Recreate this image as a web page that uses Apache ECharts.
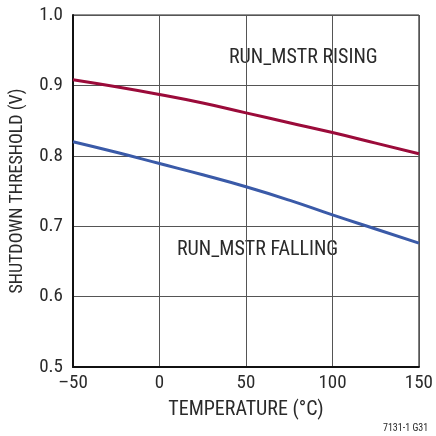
<!DOCTYPE html>
<html>
<head>
<meta charset="utf-8">
<script src="https://cdn.jsdelivr.net/npm/echarts@6/dist/echarts.min.js"></script>
<style>
  html, body { margin: 0; padding: 0; background: #fff; }
  #chart { width: 436px; height: 436px; }
</style>
</head>
<body>
<div id="chart"></div>
<script>
// 温度 (°C)
const temps = [-50, -25, 0, 25, 50, 75, 100, 125, 150]
// RUN_MSTR 上升阈值 (V)
const rising = [0.908, 0.898, 0.887, 0.875, 0.861, 0.847, 0.833, 0.818, 0.803]
// RUN_MSTR 下降阈值 (V)
const falling = [0.820, 0.805, 0.789, 0.773, 0.756, 0.737, 0.716, 0.696, 0.676]

const font = "'Roboto Condensed', 'Liberation Sans', Arial, sans-serif"
const textColor = '#2a2a2a'

const chart = echarts.init(document.getElementById('chart'))

const toPairs = arr => temps.map((t, i) => [t, arr[i]])

chart.setOption({
  animation: false,
  grid: {
    left: 71,
    right: 14,
    top: 15,
    bottom: 69,
    show: true,
    borderColor: '#222',
    borderWidth: 1
  },
  xAxis: {
    type: 'value',
    min: -50,
    max: 150,
    interval: 50,
    name: 'TEMPERATURE (°C)',
    nameLocation: 'middle',
    nameGap: 33,
    nameTextStyle: { fontFamily: font, fontSize: 20, color: textColor },
    axisLine: { onZero: false, lineStyle: { color: '#111', width: 2 } },
    axisTick: { show: false },
    axisLabel: {
      fontFamily: font, fontSize: 19, color: textColor, margin: 7,
      formatter: v => (v < 0 ? '\u2013' + Math.abs(v) : String(v))
    },
    splitLine: { lineStyle: { color: '#555', width: 1 } }
  },
  yAxis: {
    type: 'value',
    min: 0.5,
    max: 1.0,
    interval: 0.1,
    name: 'SHUTDOWN THRESHOLD (V)',
    nameLocation: 'middle',
    nameGap: 47,
    nameTextStyle: { fontFamily: font, fontSize: 18, color: textColor },
    axisLine: { onZero: false, lineStyle: { color: '#111', width: 2 } },
    axisTick: { show: false },
    axisLabel: {
      fontFamily: font, fontSize: 19, color: textColor, margin: 10,
      formatter: v => v.toFixed(1)
    },
    splitLine: { lineStyle: { color: '#555', width: 1 } }
  },
  series: [
    {
      name: 'RUN_MSTR RISING',
      type: 'line',
      smooth: true,
      symbol: 'none',
      data: toPairs(rising),
      lineStyle: { color: '#9b0b3a', width: 3 }
    },
    {
      name: 'RUN_MSTR FALLING',
      type: 'line',
      smooth: true,
      symbol: 'none',
      data: toPairs(falling),
      lineStyle: { color: '#3a5aa8', width: 3 }
    }
  ],
  graphic: [
    {
      type: 'text', left: 229, top: 48,
      style: { text: 'RUN_MSTR RISING', font: '20px ' + font, fill: textColor }
    },
    {
      type: 'text', left: 177, top: 240,
      style: { text: 'RUN_MSTR FALLING', font: '20px ' + font, fill: textColor }
    },
    {
      type: 'text', left: 383, top: 423,
      style: { text: '7131-1 G31', font: '10px ' + font, fill: textColor }
    }
  ]
})
</script>
</body>
</html>
